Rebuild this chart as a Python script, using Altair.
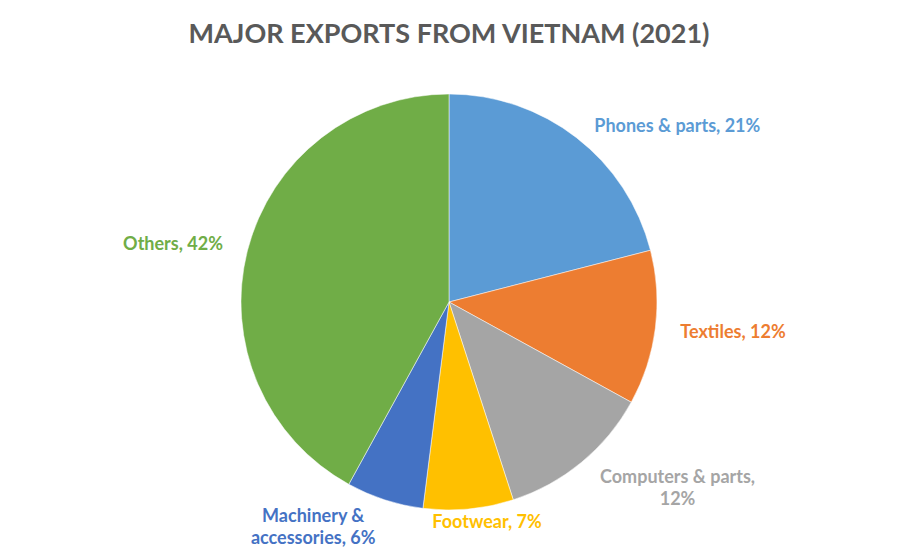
import altair as alt
import pandas as pd

categories = ["Phones & parts", "Textiles", "Computers & parts", "Footwear",
              "Machinery & accessories", "Others"]
shares = [21, 12, 12, 7, 6, 42]
labels = ["Phones & parts, 21%", "Textiles, 12%", "Computers & parts,\n12%",
          "Footwear, 7%", "Machinery &\naccessories, 6%", "Others, 42%"]
colors = ["#5B9BD5", "#ED7D31", "#A5A5A5", "#FFC000", "#4472C4", "#70AD47"]

df = pd.DataFrame({
    "category": categories,
    "share": shares,
    "label": labels,
    "idx": list(range(len(categories))),
})

CX, CY = 441, 234
R = 208
LABEL_R = 255
FONT = "Lato"

# per-label nudges (px) from the mid-angle point
offsets = {
    "Phones & parts": (72, 26),
    "Textiles": (31, -1),
    "Computers & parts": (66, -20),
    "Footwear": (14, -33),
    "Machinery & accessories": (-57, -28),
    "Others": (-29, 6),
}

color_scale = alt.Scale(domain=categories, range=colors)
theta_scale = alt.Scale(domain=[0, 100], range=[0, 6.283185307179586])

pie = alt.Chart(df).mark_arc(outerRadius=R, stroke="white", strokeWidth=0.5).encode(
    theta=alt.Theta("share:Q", stack=True, scale=theta_scale),
    order=alt.Order("idx:Q", sort="ascending"),
    color=alt.Color("category:N", scale=color_scale, legend=None),
    x=alt.value(CX),
    y=alt.value(CY),
)

text_base = alt.Chart(df).transform_window(
    cum="sum(share)", sort=[alt.SortField("idx", order="ascending")]
).transform_calculate(
    mid="datum.cum - datum.share / 2"
)

layers = [pie]
for cat in categories:
    dx, dy = offsets[cat]
    t = text_base.transform_filter(alt.datum.category == cat).mark_text(
        radius=LABEL_R, dx=dx, dy=dy, font=FONT, fontSize=18, fontWeight="bold",
        lineBreak="\n", align="center", baseline="middle", lineHeight=22,
    ).encode(
        theta=alt.Theta("mid:Q", scale=theta_scale, stack=None),
        text="label:N",
        color=alt.Color("category:N", scale=color_scale, legend=None),
        x=alt.value(CX),
        y=alt.value(CY),
    )
    layers.append(t)

chart = alt.layer(*layers).properties(
    width=882,
    height=488,
    padding={"left": 0, "top": 60, "right": 0, "bottom": 0},
    autosize=alt.AutoSizeParams(type="none"),
    title=alt.TitleParams(
        "MAJOR EXPORTS FROM VIETNAM (2021)",
        font=FONT, fontSize=27, fontWeight="bold", color="#595959",
        anchor="middle", offset=19, frame="group",
    ),
).configure_view(stroke=None)

chart.save("out.html", embed_options={"renderer": "svg", "actions": False})
